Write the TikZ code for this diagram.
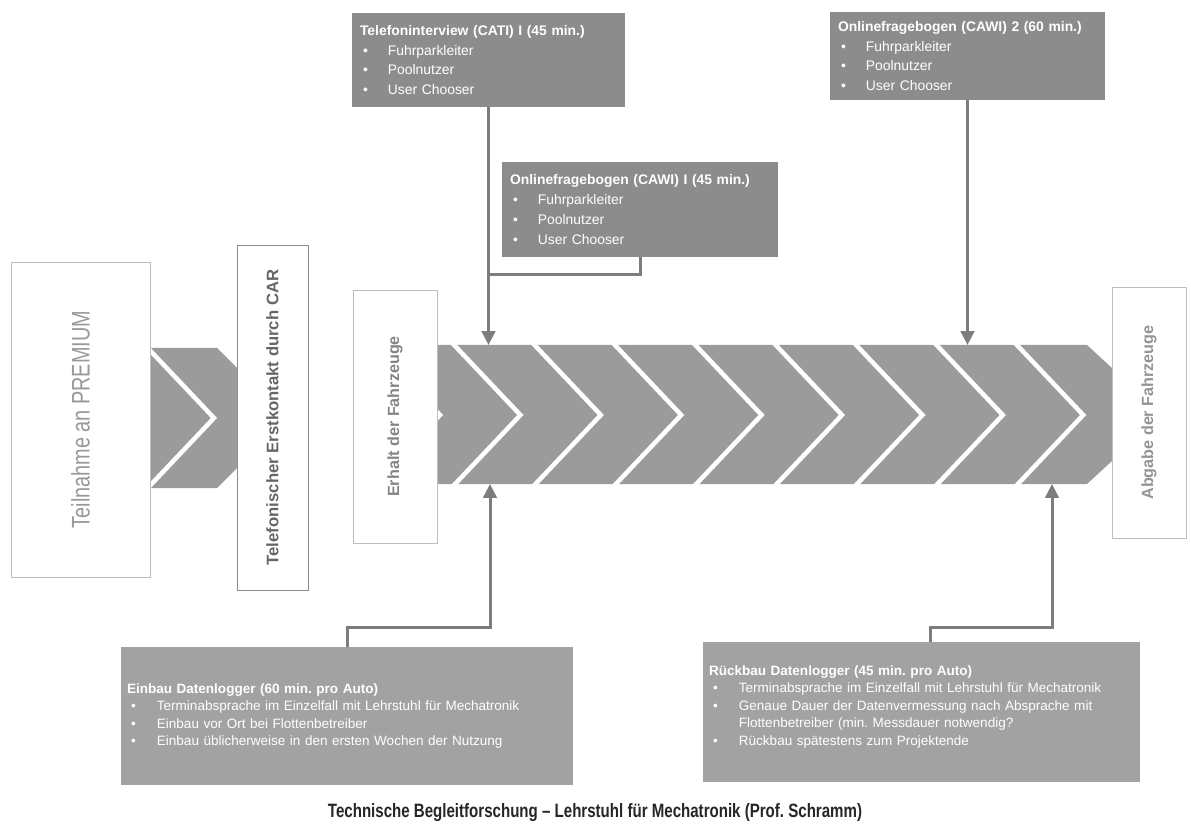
\documentclass[tikz,border=0pt]{standalone}
\usepackage{fontspec}
\setmainfont{Liberation Sans}
\newfontfamily\narrowsf[FakeStretch=0.78, Ligatures=TeX]{Liberation Sans}
\usetikzlibrary{arrows.meta}
\frenchspacing

\definecolor{bandgray}{RGB}{155,155,155}
\definecolor{topgray}{RGB}{140,140,140}
\definecolor{botgray}{RGB}{162,162,162}
\definecolor{linegray}{RGB}{125,125,125}
\definecolor{framegray}{RGB}{190,190,190}

\newcommand{\tbul}[1]{\hspace*{1.7pt}\makebox[14.2pt][l]{\textbullet}#1}
\newcommand{\bbul}[1]{\hspace*{2.3pt}\makebox[14.7pt][l]{\textbullet}#1}

\begin{document}
\begin{tikzpicture}[x=0.02cm, y=-0.02cm] % 1 unit = 1 pixel
\tikzstyle{mytopbox} = [fill=topgray, text=white, align=left, inner xsep=0.16cm, inner ysep=0pt, font=\fontsize{7.9}{11.3}\selectfont] % upper boxes
\tikzstyle{mybotbox} = [fill=botgray, text=white, align=left, inner xsep=0.12cm, inner ysep=0pt, font=\fontsize{7.7}{10}\selectfont] % lower boxes
\tikzstyle{mysidebox} = [draw=framegray, fill=white, line width=0.4pt, rotate=90, inner sep=0pt] % white upright boxes
\tikzstyle{mychev} = [white, line width=0.09cm, line join=miter] % white chevron strokes
\tikzstyle{myconn} = [draw=linegray, line width=0.06cm] % connectors
\tikzstyle{myarrow} = [myconn, -{Triangle[length=0.28cm, width=0.27cm]}]

\fill[white] (0,0) rectangle (1191,831);
\useasboundingbox (0,0) rectangle (1191,831);

% grey band with chevrons
\fill[bandgray] (380,345) -- (1087,345) -- (1112,368) -- (1112,461) -- (1087,484) -- (380,484) -- cycle;
\foreach \k in {0,...,8}
  \draw[mychev] ({440+80.4*\k-71},340) -- ({440+80.4*\k},415) -- ({440+80.4*\k-71},490);
\fill[bandgray] (120,348) -- (217,348) -- (240,371) -- (240,465) -- (217,488) -- (120,488) -- cycle;
\draw[mychev] (143,343) -- (214,418) -- (143,493);

% upright boxes
\node[mysidebox, minimum width=6.3cm, minimum height=2.78cm, text=black!40,
      font=\narrowsf\fontsize{14.5}{16}\selectfont] (teilnahme) at (80.5,419.5) {Teilnahme an PREMIUM};
\node[mysidebox, draw=black!45, minimum width=6.9cm, minimum height=1.42cm, text=black!60,
      font=\bfseries\fontsize{9.5}{11}\selectfont] (erstkontakt) at (272.5,417.5) {Telefonischer Erstkontakt durch CAR};
\node[mysidebox, minimum width=5.06cm, minimum height=1.68cm, text=black!48,
      font=\bfseries\fontsize{9.2}{11}\selectfont] (erhalt) at (395,416.5) {Erhalt der Fahrzeuge};
\node[mysidebox, minimum width=5.02cm, minimum height=1.48cm, text=black!42,
      font=\bfseries\fontsize{9.2}{11}\selectfont] (abgabe) at (1149,412.5) {Abgabe der Fahrzeuge};

% upper boxes
\node[mytopbox, text width=5.14cm, minimum height=1.88cm] (cati) at (488.5,60)
  {\textbf{Telefoninterview (CATI) I (45 min.)}\\ \tbul{Fuhrparkleiter}\\ \tbul{Poolnutzer}\\ \tbul{User Chooser}};
\node[mytopbox, text width=5.2cm, minimum height=1.9cm] (cawi1) at (640,209.5)
  {\textbf{Onlinefragebogen (CAWI) I (45 min.)}\\ \tbul{Fuhrparkleiter}\\ \tbul{Poolnutzer}\\ \tbul{User Chooser}};
\node[mytopbox, text width=5.18cm, minimum height=1.76cm] (cawi2) at (967.5,56)
  {\textbf{Onlinefragebogen (CAWI) 2 (60 min.)}\\ \tbul{Fuhrparkleiter}\\ \tbul{Poolnutzer}\\ \tbul{User Chooser}};

% lower boxes
\node[mybotbox, text width=8.8cm, minimum height=2.76cm] (einbau) at (347,716)
  {\textbf{Einbau Datenlogger (60 min. pro Auto)}\\
   \bbul{Terminabsprache im Einzelfall mit Lehrstuhl für Mechatronik}\\
   \bbul{Einbau vor Ort bei Flottenbetreiber}\\
   \bbul{Einbau üblicherweise in den ersten Wochen der Nutzung}};
\node[mybotbox, text width=8.5cm, minimum height=2.8cm] (rueckbau) at (921.5,712)
  {\textbf{Rückbau Datenlogger (45 min. pro Auto)}\\
   \bbul{Terminabsprache im Einzelfall mit Lehrstuhl für Mechatronik}\\
   \bbul{Genaue Dauer der Datenvermessung nach Absprache mit}\\
   \hspace*{17pt}Flottenbetreiber (min. Messdauer notwendig?\\
   \bbul{Rückbau spätestens zum Projektende}\\[-2.5pt]\mbox{}};

% connectors
\coordinate (bandtop) at (0,345);
\coordinate (merge) at (488.5,275);
\coordinate (bandbot1) at (490,484);
\coordinate (bandbot2) at (1052,484);
\draw[myarrow] (cati.south) -- (cati.south |- bandtop);
\draw[myconn] (cawi1.south) |- (merge);
\draw[myarrow] (cawi2.south) -- (cawi2.south |- bandtop);
\draw[myarrow] (einbau.north) -- ++(0,-19) -| (bandbot1);
\draw[myarrow] (rueckbau.north) ++(8.5,0) -- ++(0,-14) -| (bandbot2);

% caption
\node[font=\narrowsf\bfseries\fontsize{11}{13}\selectfont, text=black!85] (titel) at (595,813)
  {Technische Begleitforschung – Lehrstuhl für Mechatronik (Prof. Schramm)};
\end{tikzpicture}
\end{document}
